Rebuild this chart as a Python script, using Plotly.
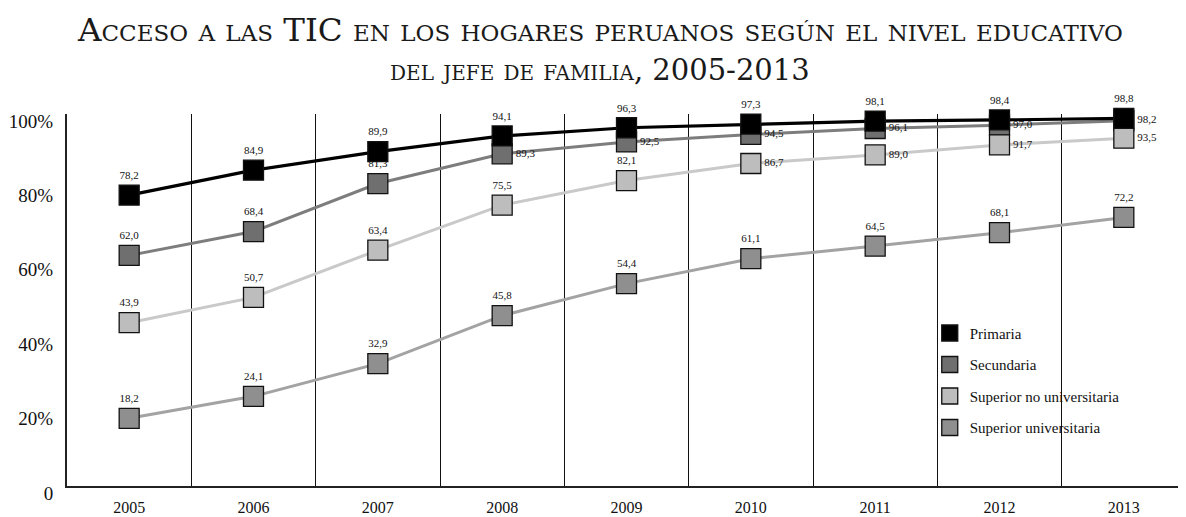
import plotly.graph_objects as go

years = ["2005", "2006", "2007", "2008", "2009", "2010", "2011", "2012", "2013"]
primaria = [78.2, 84.9, 89.9, 94.1, 96.3, 97.3, 98.1, 98.4, 98.8]
secundaria = [62.0, 68.4, 81.3, 89.3, 92.5, 94.5, 96.1, 97.0, 98.2]
sup_no_univ = [43.9, 50.7, 63.4, 75.5, 82.1, 86.7, 89.0, 91.7, 93.5]
sup_univ = [18.2, 24.1, 32.9, 45.8, 54.4, 61.1, 64.5, 68.1, 72.2]
y_tickvals = [0, 20, 40, 60, 80, 100]
y_ticktext = ["0", "20%", "40%", "60%", "80%", "100%"]
title_lines = ["Acceso a las TIC en los hogares peruanos según el nivel educativo",
               "del jefe de familia, 2005-2013"]

SERIF = "Liberation Serif"
TITLE_FONT = "DejaVu Serif"

def fmt(v):
    return f"{v:.1f}".replace(".", ",")

# name, values, marker color, line color, text positions, legend rank
series = [
    ("Superior universitaria", sup_univ, "#8f8f8f", "#a3a3a3",
     ["top center"] * 9, 4),
    ("Secundaria", secundaria, "#6f6f6f", "#7d7d7d",
     ["top center"] * 3 + ["middle right"] * 6, 2),
    ("Superior no universitaria", sup_no_univ, "#bdbdbd", "#c9c9c9",
     ["top center"] * 5 + ["middle right"] * 4, 3),
    ("Primaria", primaria, "#000000", "#000000",
     ["top center"] * 9, 1),
]

fig = go.Figure()

# lines first (below all markers)
for name, vals, mcol, lcol, tpos, rank in series:
    fig.add_trace(go.Scatter(
        x=years, y=vals, mode="lines", name=name, showlegend=False,
        line=dict(color=lcol, width=3.2 if name == "Primaria" else 3),
        hoverinfo="skip",
    ))

# markers + labels
for name, vals, mcol, lcol, tpos, rank in series:
    fig.add_trace(go.Scatter(
        x=years, y=vals, mode="markers+text", name=name, legendgroup=name,
        marker=dict(symbol="square", size=20, color=mcol,
                    line=dict(color="#111111", width=1.3)),
        text=[fmt(v) for v in vals], textposition=tpos,
        textfont=dict(family=SERIF, size=11, color="#111111"),
        legendrank=rank, cliponaxis=False,
    ))

# title as two lines
for txt, py, fs in zip(title_lines, [1.2258, 1.1183], [32.5, 29]):
    fig.add_annotation(
        text=txt, xref="paper", yref="paper", x=0.476, y=py,
        xanchor="center", yanchor="middle", showarrow=False,
        font=dict(family=TITLE_FONT, size=fs, color="#1a1a1a", variant="small-caps"),
    )

fig.update_layout(
    width=1178, height=509,
    paper_bgcolor="white", plot_bgcolor="white",
    margin=dict(l=59, r=0, t=106, b=31, autoexpand=False),
    showlegend=True,
    legend=dict(
        x=0.771, xanchor="left", y=0.455, yanchor="top",
        font=dict(family=SERIF, size=15, color="#111111"),
        bgcolor="rgba(0,0,0,0)", tracegroupgap=9,
        traceorder="grouped",
    ),
    xaxis=dict(
        type="category", range=[-0.5, 8.5], tickson="boundaries", showgrid=True,
        gridcolor="#111111", gridwidth=1, automargin=False,
        showline=True, linecolor="#222222", linewidth=2,
        ticks="", ticklabelstandoff=6,
        tickfont=dict(family=SERIF, size=16, color="#111111"),
        zeroline=False, fixedrange=True,
    ),
    yaxis=dict(
        range=[0, 100], tickvals=y_tickvals, ticktext=y_ticktext,
        showgrid=False, zeroline=False, automargin=False,
        showline=True, linecolor="#222222", linewidth=2,
        ticks="", ticklabelstandoff=8, ticklabelshift=7,
        tickfont=dict(family=SERIF, size=19, color="#111111"),
    ),
)

fig.write_html("out.html")
